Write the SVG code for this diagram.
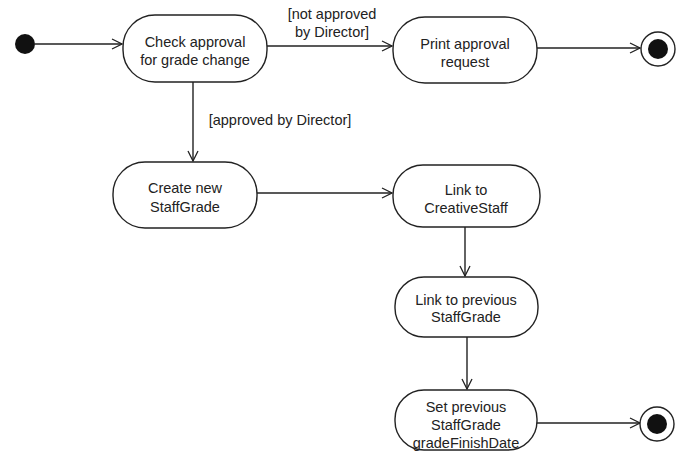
<svg xmlns="http://www.w3.org/2000/svg" width="680" height="453" viewBox="0 0 680 453">
<defs>
<marker id="arr" viewBox="0 0 12 12" refX="11" refY="6" markerWidth="12" markerHeight="12" markerUnits="userSpaceOnUse" orient="auto">
<path d="M1,1 L11,6 L1,11" fill="none" stroke="#222" stroke-width="1.3"/>
</marker>
</defs>
<style>
.node rect{fill:#fff;stroke:#222;stroke-width:1.4}
.node text,.lbl{font-family:"Liberation Sans",Arial,sans-serif;font-size:14.5px;fill:#222;text-anchor:middle}
.edge{fill:none;stroke:#222;stroke-width:1.4;marker-end:url(#arr)}
</style>
<rect width="680" height="453" fill="#fff"/>
<g id="connectors">
<line class="edge" x1="35" y1="44" x2="122" y2="44"/>
<line class="edge" x1="267" y1="46" x2="392" y2="46"/>
<line class="edge" x1="537" y1="48" x2="640" y2="48"/>
<line class="edge" x1="193" y1="82" x2="193" y2="161"/>
<line class="edge" x1="257" y1="193" x2="392" y2="193"/>
<line class="edge" x1="465" y1="227" x2="465" y2="276"/>
<line class="edge" x1="467" y1="337" x2="467" y2="389"/>
<line class="edge" x1="537" y1="423" x2="640" y2="423"/>
<text class="lbl" x="332" y="19">[not approved</text>
<text class="lbl" x="332" y="37">by Director]</text>
<text class="lbl" x="280" y="125">[approved by Director]</text>
</g>
<g id="start"><circle cx="25" cy="44" r="10" fill="#111"/></g>
<g id="n1" class="node"><rect x="123" y="15" width="144" height="67" rx="32"/><text x="195" y="47">Check approval</text><text x="195" y="65">for grade change</text></g>
<g id="n2" class="node"><rect x="393" y="17" width="144" height="66" rx="32"/><text x="465" y="49">Print approval</text><text x="465" y="67">request</text></g>
<g id="end1"><circle cx="658" cy="49" r="17" fill="#fff" stroke="#222" stroke-width="1.4"/><circle cx="658" cy="49" r="10" fill="#111"/></g>
<g id="n3" class="node"><rect x="113" y="162" width="144" height="66" rx="32"/><text x="185" y="193">Create new</text><text x="185" y="212">StaffGrade</text></g>
<g id="n4" class="node"><rect x="393" y="165" width="147" height="62" rx="30"/><text x="466" y="195">Link to</text><text x="466" y="213">CreativeStaff</text></g>
<g id="n5" class="node"><rect x="395" y="277" width="143" height="60" rx="29"/><text x="466" y="305">Link to previous</text><text x="466" y="322">StaffGrade</text></g>
<g id="n6" class="node"><rect x="395" y="390" width="142" height="60" rx="29"/><text x="466" y="412">Set previous</text><text x="466" y="430">StaffGrade</text><text x="466" y="448">gradeFinishDate</text></g>
<g id="end2"><circle cx="657" cy="424" r="17" fill="#fff" stroke="#222" stroke-width="1.4"/><circle cx="657" cy="424" r="10" fill="#111"/></g>
</svg>
